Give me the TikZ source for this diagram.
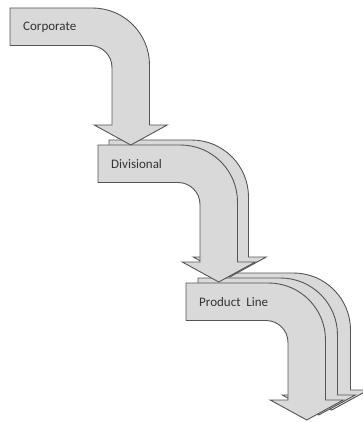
\documentclass[tikz,border=0pt]{standalone}
\usepackage{fontspec}
\setmainfont{Carlito}
\definecolor{bandfill}{HTML}{D9D9D9}
\definecolor{bandline}{HTML}{555555}
\definecolor{labeltext}{HTML}{333333}
\tikzset{
  bandstyle/.style={fill=bandfill, draw=bandline, line width=0.9pt, line join=miter},
  levellabel/.style={anchor=west, inner sep=0pt, text=labeltext, font=\fontsize{13}{15}\selectfont},
  % one bent band: horizontal bar, rounded turn, vertical shaft, arrow head
  bentarrow/.pic={
    \path[bandstyle]
      (10,8) -- (92.5,8)
      .. controls (124,8) and (149.5,33.5) .. (149.5,65)
      -- (149.5,125) -- (167.25,125) -- (130.75,145) -- (94.25,125) -- (112,125)
      -- (112,67.5)
      .. controls (112,55.35) and (102.15,45.5) .. (90,45.5)
      -- (10,45.5) -- cycle;
  }
}
\begin{document}
\begin{tikzpicture}[x=1pt,y=-1pt]
  \useasboundingbox (0,0) rectangle (363,422);
  \clip (0,0) rectangle (363,422);
  % product line level (two bands behind the front one)
  \pic at (201,265) {bentarrow};
  \pic at (188,270) {bentarrow};
  \pic at (176,275) {bentarrow};
  % divisional level (one band behind the front one)
  \pic at (99,132) {bentarrow};
  \pic at (88,137) {bentarrow};
  % corporate level
  \pic at (0,0) {bentarrow};
  % labels
  \node[levellabel] (corp) at (23,27) {Corporate};
  \node[levellabel] (div) at (111,164.5) {Divisional};
  \node[levellabel] (prod) at (199,302) {Product\ \ Line};
\end{tikzpicture}
\end{document}
